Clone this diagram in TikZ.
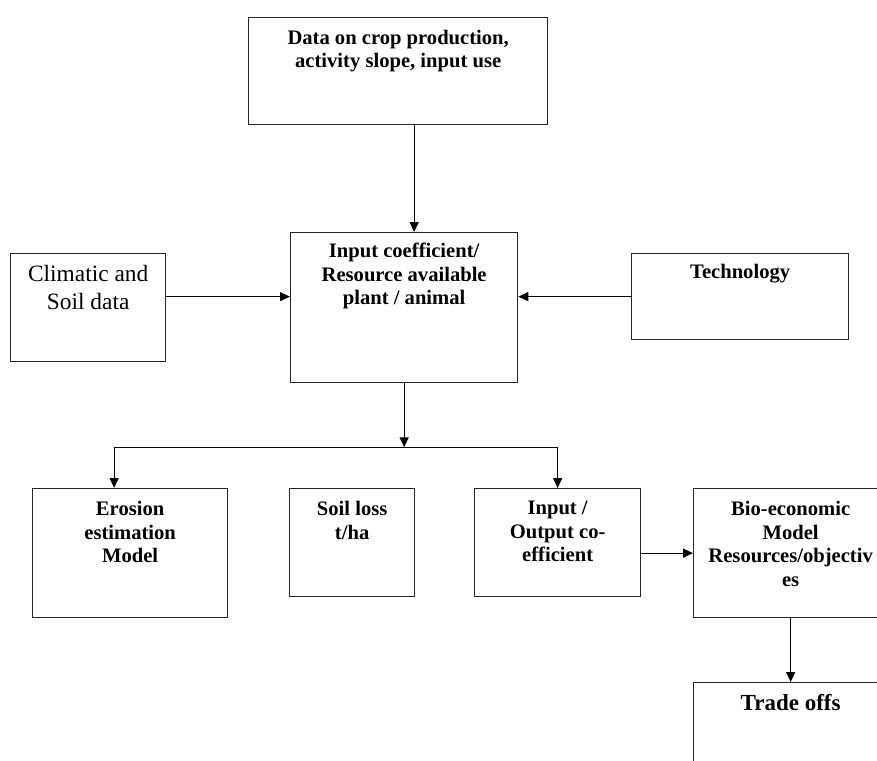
\documentclass[tikz,border=0pt]{standalone}
\usepackage{fontspec}
\setmainfont{Liberation Serif}
\usetikzlibrary{arrows.meta,positioning}
\tikzset{
  box/.style={draw=black!85,line width=1.3pt,anchor=north west,inner sep=0pt},
  txt/.style={font=\bfseries\fontsize{20.6}{23.5}\selectfont,align=center,inner sep=0pt},
  txtr/.style={font=\fontsize{23.4}{28}\selectfont,align=center,inner sep=0pt},
  flow/.style={-{Triangle[length=10pt,width=9pt]},line width=1.3pt},
}
\begin{document}
\begin{tikzpicture}[x=1pt,y=-1pt]
\clip (0,0) rectangle (877,760);
\fill[white] (0,0) rectangle (877,760);
% boxes
\node[box,minimum width=299pt,minimum height=107pt] (data) at (248,17) {};
\node[box,minimum width=227pt,minimum height=150pt] (inp) at (290,232) {};
\node[box,minimum width=155pt,minimum height=108pt] (clim) at (10,253) {};
\node[box,minimum width=217pt,minimum height=86pt] (tech) at (631,253) {};
\node[box,minimum width=195pt,minimum height=129pt] (ero) at (32,488) {};
\node[box,minimum width=125pt,minimum height=108pt] (soil) at (289,488) {};
\node[box,minimum width=166pt,minimum height=108pt] (io) at (474,488) {};
\node[box,minimum width=194pt,minimum height=129pt] (bio) at (693,488) {};
\node[box,minimum width=194pt,minimum height=108pt] (trade) at (693,682) {};
% texts
\node[txt,below=13pt of data.north] (datatxt) {Data on crop production,\\activity slope, input use};
\node[txt,below=11pt of inp.north] (inptxt) {Input coefficient/\\Resource available\\plant / animal};
\node[txtr,below=12pt of clim.north] (climtxt) {Climatic and\\Soil data};
\node[txt,below=11pt of tech.north] (techtxt) {Technology};
\node[txt,below=13pt of ero.north] (erotxt) {Erosion\\estimation\\Model};
\node[txt,below=13pt of soil.north] (soiltxt) {Soil loss\\t/ha};
\node[txt,below=13pt of io.north] (iotxt) {Input /\\Output co-\\efficient};
\node[txt,below=13pt of bio.north] (biotxt) {Bio-economic\\Model\\Resources/objectiv\\es};
\node[txt,font=\bfseries\fontsize{23}{26}\selectfont,below=12pt of trade.north] (tradetxt) {Trade offs};
% connectors
\coordinate (tip) at ([xshift=10pt]inp.north);
\draw[flow] (data.south -| tip) -- (tip);
\draw[flow] (clim.east |- tech.west) -- (inp.west |- tech.west);
\draw[flow] (tech.west) -- (inp.east |- tech.west);
\coordinate (fork) at ([yshift=-64pt]inp.south);
\coordinate (erotop) at ([xshift=-16pt]ero.north);
\draw[flow] (inp.south) -- (fork);
\draw[line width=1.3pt] (erotop |- fork) -- (io.north |- fork);
\draw[flow] (erotop |- fork) -- (erotop);
\draw[flow] (io.north |- fork) -- (io.north);
\draw[flow] (io.east |- bio.west) -- (bio.west);
\draw[flow] (bio.south) -- (trade.north);
\end{tikzpicture}
\end{document}
